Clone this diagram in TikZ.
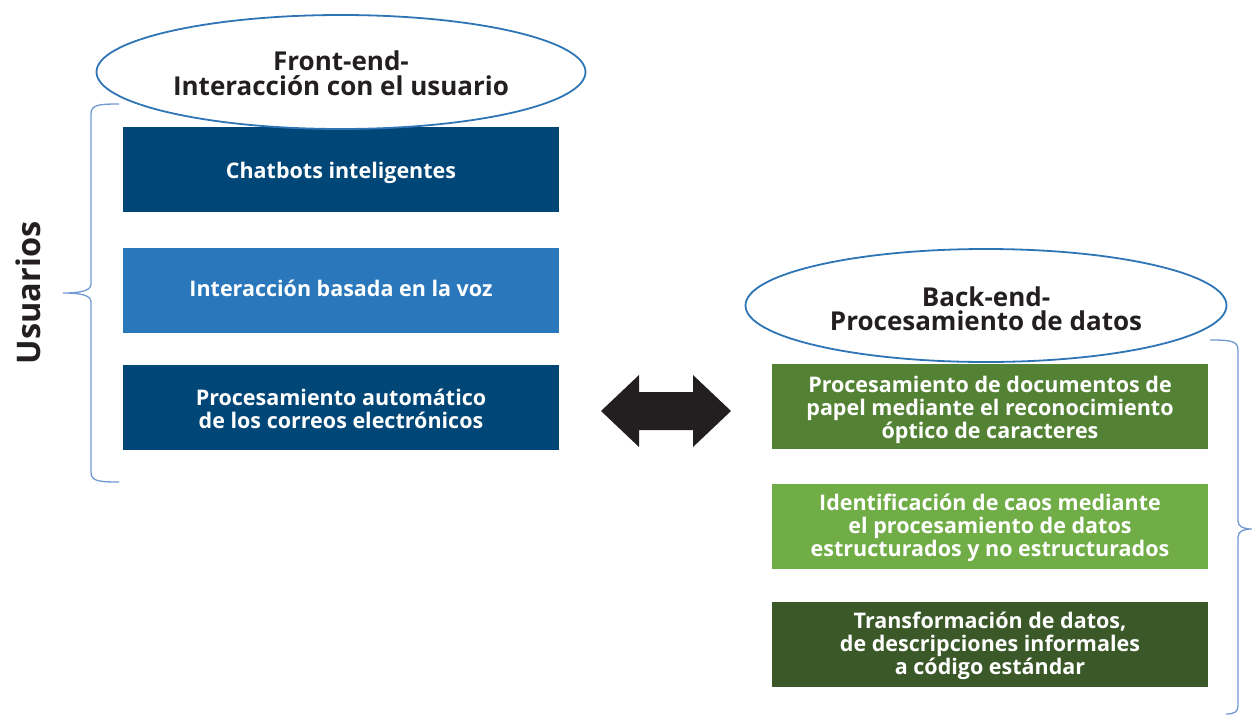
\documentclass[tikz,border=0pt]{standalone}
\usepackage{fontspec}
\setmainfont{Open Sans}
\usetikzlibrary{shapes.geometric}
\definecolor{dblue}{HTML}{004677}
\definecolor{mblue}{HTML}{2A77BB}
\definecolor{eblue}{HTML}{2E75B6}
\definecolor{bblue}{HTML}{7199D2}
\definecolor{gone}{HTML}{548235}
\definecolor{gtwo}{HTML}{70AD47}
\definecolor{gthree}{HTML}{3A5828}
\definecolor{ink}{HTML}{231F20}
\tikzset{
  box/.style={draw=none, minimum width=436pt, minimum height=85pt, inner sep=0pt},
  boxtext/.style={inner sep=0pt, text=white, align=center,
    font=\bfseries\fontsize{21.5}{23}\selectfont},
  oval/.style={ellipse, draw=eblue, line width=1.8pt, fill=white, inner sep=0pt},
  ovaltext/.style={inner sep=0pt, align=center, text=ink,
    font=\bfseries\fontsize{26}{24.5}\selectfont},
  bracestyle/.style={draw=bblue, line width=1.3pt}
}
\begin{document}
\begin{tikzpicture}[x=1pt,y=-1pt]
\useasboundingbox (0,0) rectangle (1252,717);
% left boxes
\node[box, fill=dblue] (b1) at (341,169.5) {};
\node[box, fill=mblue] (b2) at (341,290) {};
\node[box, fill=dblue] (b3) at (341,407) {};
\node[boxtext] (t1) at ([yshift=-3pt]b1.center) {Chatbots inteligentes};
\node[boxtext] (t2) at ([yshift=2pt]b2.center) {Interacción basada en la voz};
\node[boxtext] (t3) at ([yshift=-2pt]b3.center) {Procesamiento automático\\de los correos electrónicos};
% right boxes
\node[box, fill=gone] (g1) at (990,406) {};
\node[box, fill=gtwo] (g2) at (990,526) {};
\node[box, fill=gthree] (g3) at (990,644) {};
\node[boxtext] (s1) at ([yshift=-4pt]g1.center) {Procesamiento de documentos de\\papel mediante el reconocimiento\\óptico de caracteres};
\node[boxtext] (s2) at ([yshift=-1.5pt]g2.center) {Identificación de caos mediante\\el procesamiento de datos\\estructurados y no estructurados};
\node[boxtext] (s3) at ([yshift=-2pt]g3.center) {Transformación de datos,\\de descripciones informales\\a código estándar};
% ellipses
\node[oval, minimum width=489pt, minimum height=114pt] (e1) at (341,72) {};
\node[oval, minimum width=481pt, minimum height=113pt] (e2) at (986,305.5) {};
\node[ovaltext] (et1) at ([yshift=-1pt]e1.center) {Front-end-\\Interacción con el usuario};
\node[ovaltext] (et2) at ([yshift=-3pt]e2.center) {Back-end-\\Procesamiento de datos};
% left brace
\draw[bracestyle] (119,104) .. controls (98,104) and (91,105) .. (91,114)
  -- (91,284) .. controls (91,291) and (80,293) .. (63,293)
  .. controls (80,293) and (91,295) .. (91,302)
  -- (91,472) .. controls (91,481) and (98,482) .. (119,482);
% right brace
\draw[bracestyle] (1210,340) .. controls (1231,340) and (1238,341) .. (1238,350)
  -- (1238,521) .. controls (1238,527) and (1244,529) .. (1252,529)
  .. controls (1244,529) and (1238,531) .. (1238,537)
  -- (1238,706) .. controls (1238,712) and (1234,714) .. (1226,714);
% Usuarios
\node[rotate=90, text=ink, font=\bfseries\fontsize{32.5}{36}\selectfont] (u) at (28,293) {Usuarios};
% double arrow
\fill[ink] (601,411) -- (639,375) -- (639,392) -- (693,392) -- (693,375) -- (731,411)
  -- (693,447) -- (693,430) -- (639,430) -- (639,447) -- cycle;
\coordinate (arrowmid) at (666,411);
\end{tikzpicture}
\end{document}
